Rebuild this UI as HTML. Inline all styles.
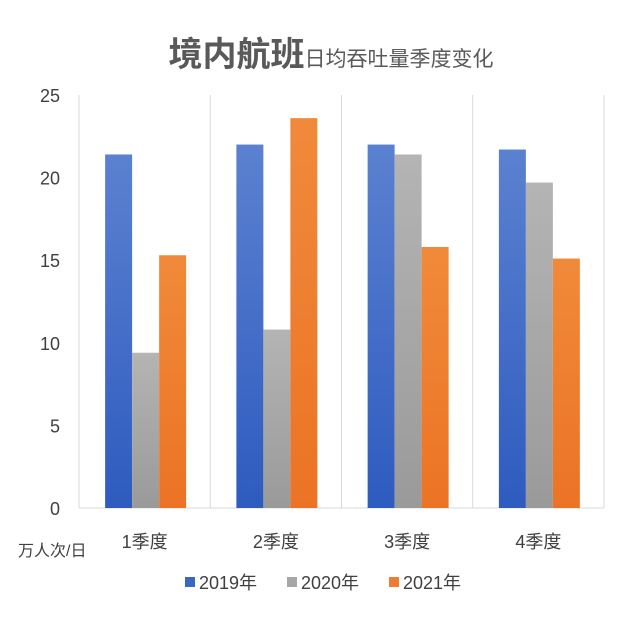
<!DOCTYPE html>
<html><head><meta charset="utf-8"><style>
body{margin:0;background:#fff;}
svg{display:block;font-family:"Liberation Sans","Noto Sans CJK SC",sans-serif;}
</style></head><body>
<svg id="chart" width="641" height="625">
<defs>
<linearGradient id="gb" x1="0" y1="0" x2="0" y2="1"><stop offset="0" stop-color="#5b81d0"/><stop offset="1" stop-color="#2e5bbf"/></linearGradient>
<linearGradient id="gg" x1="0" y1="0" x2="0" y2="1"><stop offset="0" stop-color="#b4b4b4"/><stop offset="1" stop-color="#9a9a9a"/></linearGradient>
<linearGradient id="go" x1="0" y1="0" x2="0" y2="1"><stop offset="0" stop-color="#f08a3a"/><stop offset="1" stop-color="#ec7325"/></linearGradient>
</defs>
<text x="331" y="66" text-anchor="middle"><tspan font-size="34" font-weight="bold" fill="#595959">境内航班</tspan><tspan font-size="21" fill="#595959">日均吞吐量季度变化</tspan></text>
<g id="plot"></g>
<text x="18" y="556" font-size="16" fill="#404040">万人次/日</text>
</svg>
<script>
const categories=["1季度","2季度","3季度","4季度"];
const series=["2019年","2020年","2021年"];
const v2019=[21.4,22.0,22.0,21.7];
const v2020=[9.4,10.8,21.4,19.7];
const v2021=[15.3,23.6,15.8,15.1];
const yTicks=[0,5,10,15,20,25];
const ns="http://www.w3.org/2000/svg";
const svg=document.getElementById('chart'),g=document.getElementById('plot');
const x0=79,x1=604,y0=508,y1=95,ymax=25;
const cw=(x1-x0)/categories.length;
const y=v=>y0-(v/ymax)*(y0-y1);
function mk(t,a){const e=document.createElementNS(ns,t);for(const k in a)e.setAttribute(k,a[k]);g.appendChild(e);return e;}
for(let i=0;i<=categories.length;i++){
 const l=mk('line',{x1:x0+i*cw,x2:x0+i*cw,y1:y1,y2:y0,stroke:'#d9d9d9'});
 
 
}
const ax=mk('line',{x1:x0,x2:x1,y1:y0,y2:y0,stroke:'#d9d9d9'});


yTicks.forEach(t=>{
 const e=mk('text',{x:60,y:y(t)+7,'text-anchor':'end','font-size':18,fill:'#404040'});
 e.textContent=t;
 
 
});
const vals=[v2019,v2020,v2021],fills=['url(#gb)','url(#gg)','url(#go)'],bw=27;
categories.forEach((c,i)=>{
 const cx=x0+i*cw+cw/2;
 vals.forEach((arr,s)=>{
  const bx=cx-1.5*bw+s*bw+1;
  const r=mk('rect',{x:bx,y:y(arr[i]),width:bw,height:y0-y(arr[i]),fill:fills[s]});
  
  
 });
 const t=mk('text',{x:cx,y:548,'text-anchor':'middle','font-size':18,fill:'#404040'});
 t.textContent=c;
 
 
});
const lc=['#3a66c6','#a6a6a6','#ed7d31'],lx=[185,287,389];
series.forEach((s,k)=>{
 const r=mk('rect',{x:lx[k],y:577,width:10,height:10,fill:lc[k]});
 
 
 const t=mk('text',{x:lx[k]+14,y:589,'font-size':18,fill:'#404040'});
 t.textContent=s;
 
 
});
</script>
</body></html>
